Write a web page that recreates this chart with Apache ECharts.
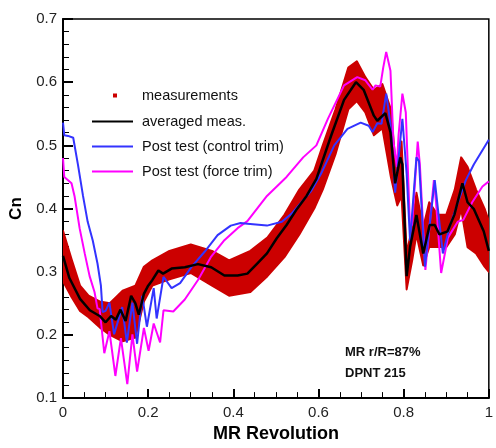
<!DOCTYPE html>
<html><head><meta charset="utf-8">
<script src="https://cdn.jsdelivr.net/npm/echarts@6/dist/echarts.min.js"></script>
<style>html,body{margin:0;padding:0;background:#fff}#c{width:496px;height:448px}</style>
</head><body><div id="c"></div>
<script>
// Measurements band (envelope of the scatter cloud)
const measX  = [0, 0.02, 0.04, 0.06, 0.086, 0.11, 0.14, 0.17, 0.19, 0.21, 0.25, 0.30, 0.35, 0.39, 0.44, 0.48, 0.52, 0.555, 0.59, 0.61, 0.64, 0.67, 0.69, 0.71, 0.73, 0.75, 0.77, 0.785, 0.795, 0.807, 0.82, 0.83, 0.846, 0.86, 0.88, 0.90, 0.92, 0.935, 0.95, 0.97, 0.99, 1.0];
const measHi = [0.365, 0.32, 0.278, 0.262, 0.253, 0.25, 0.27, 0.278, 0.308, 0.318, 0.333, 0.343, 0.333, 0.318, 0.333, 0.354, 0.39, 0.43, 0.46, 0.50, 0.557, 0.623, 0.633, 0.608, 0.588, 0.597, 0.557, 0.44, 0.506, 0.33, 0.369, 0.425, 0.37, 0.41, 0.39, 0.39, 0.43, 0.481, 0.466, 0.43, 0.40, 0.38];
const measLo = [0.285, 0.26, 0.238, 0.228, 0.212, 0.20, 0.19, 0.196, 0.253, 0.278, 0.288, 0.298, 0.278, 0.262, 0.268, 0.293, 0.323, 0.359, 0.40, 0.43, 0.486, 0.557, 0.57, 0.552, 0.516, 0.527, 0.45, 0.405, 0.42, 0.272, 0.318, 0.359, 0.31, 0.339, 0.339, 0.339, 0.359, 0.399, 0.339, 0.329, 0.308, 0.30];

// averaged meas.
const avgX = [0, 0.015, 0.04, 0.063, 0.086, 0.10, 0.113, 0.124, 0.135, 0.147, 0.16, 0.17, 0.178, 0.19, 0.2, 0.21, 0.224, 0.235, 0.255, 0.286, 0.317, 0.348, 0.379, 0.41, 0.433, 0.456, 0.479, 0.502, 0.525, 0.549, 0.572, 0.595, 0.63, 0.66, 0.688, 0.706, 0.73, 0.738, 0.757, 0.769, 0.78, 0.792, 0.797, 0.807, 0.815, 0.830, 0.846, 0.861, 0.873, 0.884, 0.903, 0.919, 0.938, 0.950, 0.965, 0.988, 1.0];
const avgY = [0.325, 0.29, 0.257, 0.239, 0.230, 0.220, 0.230, 0.224, 0.240, 0.222, 0.262, 0.25, 0.232, 0.265, 0.278, 0.287, 0.302, 0.297, 0.305, 0.307, 0.312, 0.307, 0.294, 0.294, 0.297, 0.313, 0.329, 0.353, 0.374, 0.399, 0.420, 0.447, 0.516, 0.572, 0.600, 0.588, 0.547, 0.539, 0.551, 0.521, 0.44, 0.481, 0.47, 0.293, 0.339, 0.39, 0.329, 0.374, 0.374, 0.359, 0.364, 0.39, 0.44, 0.41, 0.399, 0.364, 0.333];

// Post test (control trim)
const ctrlX = [0, 0.003, 0.012, 0.024, 0.035, 0.047, 0.058, 0.07, 0.081, 0.089, 0.093, 0.10, 0.109, 0.12, 0.139, 0.15, 0.163, 0.174, 0.186, 0.197, 0.213, 0.22, 0.236, 0.255, 0.275, 0.301, 0.333, 0.363, 0.394, 0.417, 0.433, 0.479, 0.514, 0.537, 0.56, 0.583, 0.606, 0.637, 0.668, 0.699, 0.718, 0.727, 0.738, 0.748, 0.759, 0.769, 0.78, 0.797, 0.807, 0.815, 0.83, 0.836, 0.85, 0.873, 0.892, 0.907, 0.93, 0.946, 0.965, 1.0];
const ctrlY = [0.536, 0.516, 0.515, 0.512, 0.47, 0.42, 0.379, 0.349, 0.313, 0.278, 0.236, 0.238, 0.251, 0.201, 0.244, 0.188, 0.251, 0.186, 0.262, 0.213, 0.274, 0.226, 0.292, 0.274, 0.282, 0.307, 0.332, 0.358, 0.373, 0.377, 0.376, 0.373, 0.379, 0.392, 0.41, 0.428, 0.455, 0.50, 0.526, 0.536, 0.531, 0.521, 0.535, 0.534, 0.582, 0.534, 0.425, 0.542, 0.455, 0.349, 0.481, 0.475, 0.308, 0.445, 0.329, 0.369, 0.415, 0.445, 0.47, 0.509];

// Post test (force trim)
const forceX = [0, 0.003, 0.02, 0.027, 0.039, 0.051, 0.0625, 0.074, 0.081, 0.086, 0.097, 0.109, 0.123, 0.136, 0.151, 0.163, 0.174, 0.19, 0.201, 0.213, 0.228, 0.236, 0.259, 0.286, 0.317, 0.347, 0.379, 0.41, 0.433, 0.479, 0.525, 0.564, 0.595, 0.622, 0.66, 0.691, 0.71, 0.727, 0.734, 0.745, 0.752, 0.759, 0.769, 0.776, 0.784, 0.788, 0.797, 0.805, 0.815, 0.82, 0.833, 0.838, 0.851, 0.871, 0.876, 0.888, 0.904, 0.927, 0.94, 0.961, 0.985, 1.0];
const forceY = [0.48, 0.45, 0.44, 0.42, 0.369, 0.329, 0.293, 0.268, 0.242, 0.241, 0.171, 0.206, 0.135, 0.195, 0.122, 0.201, 0.142, 0.211, 0.175, 0.218, 0.188, 0.239, 0.237, 0.256, 0.287, 0.323, 0.35, 0.369, 0.38, 0.42, 0.45, 0.481, 0.50, 0.542, 0.595, 0.608, 0.603, 0.588, 0.595, 0.593, 0.623, 0.648, 0.618, 0.506, 0.466, 0.516, 0.582, 0.552, 0.369, 0.375, 0.506, 0.47, 0.303, 0.445, 0.41, 0.298, 0.354, 0.379, 0.382, 0.41, 0.435, 0.443];

const seriesNames = ['measurements', 'averaged meas.', 'Post test (control trim)', 'Post test (force trim)'];
const seriesColors = ['#cc0000', '#000000', '#3333ff', '#ff00ff'];
const annotation = ['MR r/R=87%', 'DPNT 215'];

const zip = (xs, ys) => xs.map((x, i) => [x, ys[i]]);
const bandData = measX.map((x, i) => [x, measLo[i], measHi[i]]);

const chart = echarts.init(document.getElementById('c'), null, {renderer: 'canvas'});
const font = 'Arial, "Liberation Sans", sans-serif';

chart.setOption({
  animation: false,
  backgroundColor: '#fff',
  grid: {left: 63, right: 1, top: 19, bottom: 35, show: true, borderColor: '#000', borderWidth: 1.5, backgroundColor: 'transparent'},
  xAxis: {
    type: 'value', min: 0, max: 1, interval: 0.2,
    name: 'MR Revolution', nameLocation: 'middle', nameGap: 18,
    nameTextStyle: {fontFamily: font, fontWeight: 'bold', fontSize: 18, color: '#000'},
    axisLine: {show: true, lineStyle: {color: '#000', width: 2}},
    axisTick: {show: true, inside: true, length: 9, lineStyle: {color: '#000', width: 2}},
    minorTick: {show: true, splitNumber: 4, length: 6, lineStyle: {color: '#000', width: 1}},
    splitLine: {show: false},
    axisLabel: {fontFamily: font, fontSize: 15, color: '#222', margin: 7}
  },
  yAxis: {
    type: 'value', min: 0.1, max: 0.7, interval: 0.1,
    name: 'Cn', nameLocation: 'middle', nameGap: 32, nameRotate: 90,
    nameTextStyle: {fontFamily: font, fontWeight: 'bold', fontSize: 17, color: '#000'},
    axisLine: {show: true, lineStyle: {color: '#000', width: 2}},
    axisTick: {show: true, inside: true, length: 10, lineStyle: {color: '#000', width: 2}},
    minorTick: {show: true, splitNumber: 5, length: 6, lineStyle: {color: '#000', width: 1}},
    splitLine: {show: false},
    axisLabel: {fontFamily: font, fontSize: 15, color: '#222', margin: 6, formatter: v => v.toFixed(1)}
  },
  legend: [
    {
      data: [{name: seriesNames[0], icon: 'rect', itemStyle: {color: seriesColors[0]}}],
      orient: 'vertical', left: 113, top: 88, padding: 0, itemWidth: 4, itemHeight: 4,
      selectedMode: false,
      textStyle: {fontFamily: font, fontSize: 14.5, color: '#111', padding: [0, 0, 0, 20]}
    },
    {
      data: [1, 2, 3].map(i => ({name: seriesNames[i], icon: 'rect', itemStyle: {color: seriesColors[i]}})),
      orient: 'vertical', left: 92, top: 114, padding: 0, itemWidth: 41, itemHeight: 2, itemGap: 10,
      selectedMode: false,
      textStyle: {fontFamily: font, fontSize: 14.5, color: '#111', padding: [0, 0, 0, 4]}
    }
  ],
  graphic: [
    {type: 'text', x: 345, y: 352, style: {text: annotation[0], font: 'bold 13px ' + font, fill: '#111', verticalAlign: 'middle'}},
    {type: 'text', x: 345, y: 373.5, style: {text: annotation[1], font: 'bold 13px ' + font, fill: '#111', verticalAlign: 'middle'}}
  ],
  series: [
    {
      name: seriesNames[0], type: 'custom', clip: true, z: 1,
      itemStyle: {color: seriesColors[0]},
      data: bandData,
      encode: {x: 0, y: [1, 2]},
      renderItem: function (params, api) {
        if (params.dataIndex !== 0) return;
        const pts = [];
        for (let i = 0; i < bandData.length; i++) pts.push(api.coord([bandData[i][0], bandData[i][2]]));
        for (let i = bandData.length - 1; i >= 0; i--) pts.push(api.coord([bandData[i][0], bandData[i][1]]));
        return {type: 'polygon', shape: {points: pts}, style: {fill: seriesColors[0], stroke: seriesColors[0], lineWidth: 2, lineJoin: 'round'}};
      }
    },
    {name: seriesNames[3], type: 'line', data: zip(forceX, forceY), symbol: 'none', z: 3,
     lineStyle: {color: seriesColors[3], width: 2}, itemStyle: {color: seriesColors[3]}},
    {name: seriesNames[2], type: 'line', data: zip(ctrlX, ctrlY), symbol: 'none', z: 4,
     lineStyle: {color: seriesColors[2], width: 2}, itemStyle: {color: seriesColors[2]}},
    {name: seriesNames[1], type: 'line', data: zip(avgX, avgY), symbol: 'none', z: 5,
     lineStyle: {color: seriesColors[1], width: 2.5}, itemStyle: {color: seriesColors[1]}}
  ]
});
</script>
</body></html>
